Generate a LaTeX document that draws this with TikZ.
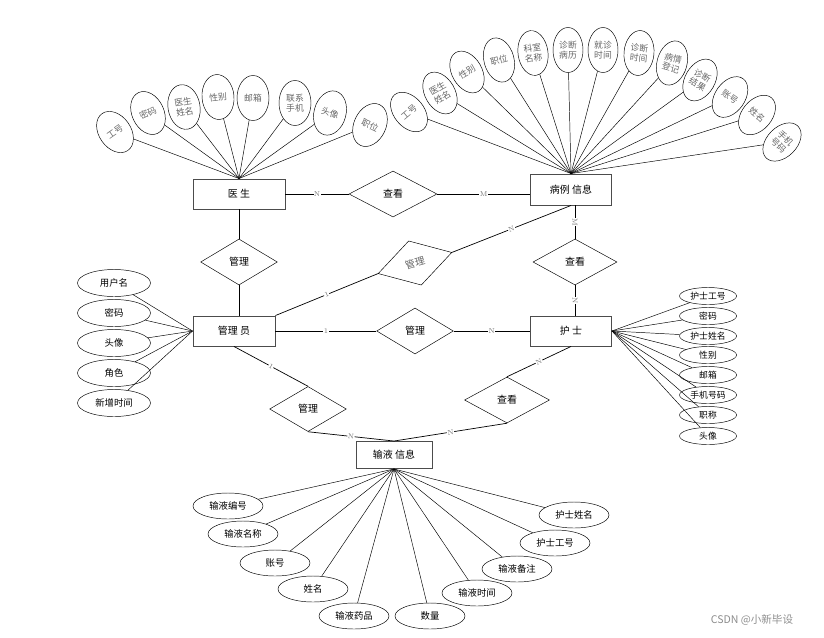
\documentclass[tikz,border=0pt]{standalone}
\usepackage{fontspec}
\usepackage{tikz}
\usetikzlibrary{shapes.geometric}
\newfontfamily\cjk{Noto Sans CJK SC}

\begin{document}
\begin{tikzpicture}[x=0.3mm, y=-0.3mm,
        entity/.style={draw=black!70, line width=0.8pt, minimum height=9mm, inner sep=0pt, font=\cjk\fontsize{8.5}{10}\selectfont},
        rel/.style={draw, diamond, inner sep=0pt, minimum width=23mm, minimum height=13.8mm, font=\cjk\fontsize{8.5}{10}\selectfont},
        fan/.style={draw, ellipse, inner sep=0pt, minimum width=9.6mm, minimum height=13.5mm, align=center, text=black!60, font=\cjk\fontsize{7.5}{8.5}\selectfont},
        attr/.style={draw, ellipse, inner sep=0pt, minimum width=21.9mm, minimum height=8.1mm, font=\cjk\fontsize{8}{10}\selectfont},
        card/.style={fill=white, inner sep=0.4pt, text=black!55, font=\fontsize{6}{6}\selectfont},
        link/.style={line width=0.6pt}]

        \useasboundingbox (0,0) rectangle (824,637);

        % entities

        \node [entity, minimum width=27.6mm] (doc) at (239,194) {医 生};
        \node [entity, minimum width=24.3mm, minimum height=9.3mm] (case) at (571,189.5) {病例 信息};
        \node [entity, minimum width=24.6mm] (adm) at (234,331) {管理 员};
        \node [entity, minimum width=24.3mm] (nur) at (571,331) {护 士};
        \node [entity, minimum width=22.8mm, minimum height=8.1mm] (inf) at (394,455) {输液 信息};

        % relations

        \node [rel, minimum width=26.4mm] (ck1) at (393,194) {查看};
        \node [rel] (mg1) at (239,262) {管理};
        \node [rel, rotate=16, text=black!60] (mg4) at (415,263) {管理};
        \node [rel, minimum width=25.2mm] (ck2) at (575,262) {查看};
        \node [rel] (mg2) at (415,331) {管理};
        \node [rel, minimum height=13.5mm] (mg3) at (308,409) {管理};
        \node [rel, minimum width=25.5mm] (ck3) at (507,400) {查看};

        % links

        \draw [link] (doc.east) -- node [card] {N} (ck1.west);
        \draw [link] (ck1.east) -- node [card] {M} (ck1.east -| case.west);
        \draw [link] (doc.south) -- (mg1.north);
        \draw [link] (mg1.south) -- (mg1.south |- adm.north);
        \draw [link] (adm.east) -- node [card] {1} (mg2.west);
        \draw [link] (mg2.east) -- node [card] {N} (nur.west);
        \draw [link] (ck2.north |- case.south) -- node [card, sloped] {M} (ck2.north);
        \draw [link] (ck2.south) -- node [card, sloped] {N} (ck2.south |- nur.north);
        \draw [link] (adm.north east) -- node [card, sloped] {1} (mg4.west);
        \draw [link] (mg4.east) -- node [card, sloped] {N} (case.south);
        \draw [link] (adm.south) -- node [card, sloped] {1} (mg3.north);
        \draw [link] (mg3.south) -- node [card, sloped] {N} (inf.north);
        \draw [link] (nur.south) -- node [card, sloped] {N} (ck3.north);
        \draw [link] (ck3.south) -- node [card, sloped] {N} (inf.north);

        % doctor attributes

        \node [fan, rotate=35] (d1) at (115,132) {工号};
        \node [fan, rotate=25] (d2) at (148,113) {密码};
        \node [fan, rotate=10] (d3) at (184,107) {医生\\姓名};
        \node [fan, rotate=5] (d4) at (218,97) {性别};
        \node [fan] (d5) at (253,98) {邮箱};
        \node [fan] (d6) at (295,103) {联系\\手机};
        \node [fan, rotate=-15] (d7) at (330,113) {头像};
        \node [fan, rotate=-25] (d8) at (370,125) {职位};

        \draw (d1) -- (doc.north);
        \draw (d2) -- (doc.north);
        \draw (d3) -- (doc.north);
        \draw (d4) -- (doc.north);
        \draw (d5) -- (doc.north);
        \draw (d6) -- (doc.north);
        \draw (d7) -- (doc.north);
        \draw (d8) -- (doc.north);

        % case attributes

        \node [fan, minimum width=9mm, rotate=40] (c1) at (409,112) {工号};
        \node [fan, minimum width=9mm, rotate=30] (c2) at (440,93) {医生\\姓名};
        \node [fan, minimum width=9mm, rotate=30] (c3) at (467,72) {性别};
        \node [fan, minimum width=9mm, rotate=15] (c4) at (499,60) {职位};
        \node [fan, minimum width=9mm, rotate=8] (c5) at (533,53) {科室\\名称};
        \node [fan, minimum width=9mm] (c6) at (568,50) {诊断\\病历};
        \node [fan, minimum width=9mm] (c7) at (603,50) {就诊\\时间};
        \node [fan, minimum width=9mm, rotate=-5] (c8) at (639,53) {诊断\\时间};
        \node [fan, minimum width=9mm, rotate=-15] (c9) at (672,63) {病情\\登记};
        \node [fan, minimum width=9mm, rotate=-30] (c10) at (700,80) {诊断\\结果};
        \node [fan, minimum width=9mm, rotate=-35] (c11) at (730,97) {账号};
        \node [fan, minimum width=9mm, rotate=-40] (c12) at (757,115) {姓名};
        \node [fan, minimum width=9mm, rotate=-45] (c13) at (782,142) {手机\\号码};

        \draw (c1) -- (case.north);
        \draw (c2) -- (case.north);
        \draw (c3) -- (case.north);
        \draw (c4) -- (case.north);
        \draw (c5) -- (case.north);
        \draw (c6) -- (case.north);
        \draw (c7) -- (case.north);
        \draw (c8) -- (case.north);
        \draw (c9) -- (case.north);
        \draw (c10) -- (case.north);
        \draw (c11) -- (case.north);
        \draw (c12) -- (case.north);
        \draw (c13) -- (case.north);

        % admin attributes

        \node [attr] (a1) at (114,283) {用户名};
        \node [attr] (a2) at (114,313) {密码};
        \node [attr] (a3) at (114,343) {头像};
        \node [attr] (a4) at (114,373) {角色};
        \node [attr] (a5) at (114,403) {新增时间};

        \draw (a1) -- (adm.west);
        \draw (a2) -- (adm.west);
        \draw (a3) -- (adm.west);
        \draw (a4) -- (adm.west);
        \draw (a5) -- (adm.west);

        % nurse attributes

        \node [attr, minimum width=17.1mm, minimum height=5.1mm, font=\cjk\fontsize{7.5}{9}\selectfont] (n1) at (708,296) {护士工号};
        \node [attr, minimum width=17.1mm, minimum height=5.1mm, font=\cjk\fontsize{7.5}{9}\selectfont] (n2) at (708,316) {密码};
        \node [attr, minimum width=17.1mm, minimum height=5.1mm, font=\cjk\fontsize{7.5}{9}\selectfont] (n3) at (708,336) {护士姓名};
        \node [attr, minimum width=17.1mm, minimum height=5.1mm, font=\cjk\fontsize{7.5}{9}\selectfont] (n4) at (708,355) {性别};
        \node [attr, minimum width=17.1mm, minimum height=5.1mm, font=\cjk\fontsize{7.5}{9}\selectfont] (n5) at (708,375) {邮箱};
        \node [attr, minimum width=17.1mm, minimum height=5.1mm, font=\cjk\fontsize{7.5}{9}\selectfont] (n6) at (708,395) {手机号码};
        \node [attr, minimum width=17.1mm, minimum height=5.1mm, font=\cjk\fontsize{7.5}{9}\selectfont] (n7) at (708,415) {职称};
        \node [attr, minimum width=17.1mm, minimum height=5.1mm, font=\cjk\fontsize{7.5}{9}\selectfont] (n8) at (708,436) {头像};

        \draw (n1) -- (nur.east);
        \draw (n2) -- (nur.east);
        \draw (n3) -- (nur.east);
        \draw (n4) -- (nur.east);
        \draw (n5) -- (nur.east);
        \draw (n6) -- (nur.east);
        \draw (n7) -- (nur.east);
        \draw (n8) -- (nur.east);

        % infusion attributes

        \node [attr, minimum width=21mm, minimum height=7.8mm] (i1) at (228,506) {输液编号};
        \node [attr, minimum width=21mm, minimum height=7.8mm] (i2) at (243,534) {输液名称};
        \node [attr, minimum width=21mm, minimum height=7.8mm] (i3) at (275,563) {账号};
        \node [attr, minimum width=21mm, minimum height=7.8mm] (i4) at (313,589) {姓名};
        \node [attr, minimum width=21mm, minimum height=7.8mm] (i5) at (354,616) {输液药品};
        \node [attr, minimum width=21mm, minimum height=7.8mm] (i6) at (430,616) {数量};
        \node [attr, minimum width=21mm, minimum height=7.8mm] (i7) at (477,593) {输液时间};
        \node [attr, minimum width=21mm, minimum height=7.8mm] (i8) at (517,569) {输液备注};
        \node [attr, minimum width=21mm, minimum height=7.8mm] (i9) at (555,543) {护士工号};
        \node [attr, minimum width=21mm, minimum height=7.8mm] (i10) at (574,515) {护士姓名};

        \draw (i1) -- (inf.south);
        \draw (i2) -- (inf.south);
        \draw (i3) -- (inf.south);
        \draw (i4) -- (inf.south);
        \draw (i5) -- (inf.south);
        \draw (i6) -- (inf.south);
        \draw (i7) -- (inf.south);
        \draw (i8) -- (inf.south);
        \draw (i9) -- (inf.south);
        \draw (i10) -- (inf.south);

        \node [text=black!45, font=\cjk\fontsize{9}{10}\selectfont] (mark) at (752,620) {CSDN @小新毕设};

    \end{tikzpicture}
\end{document}
